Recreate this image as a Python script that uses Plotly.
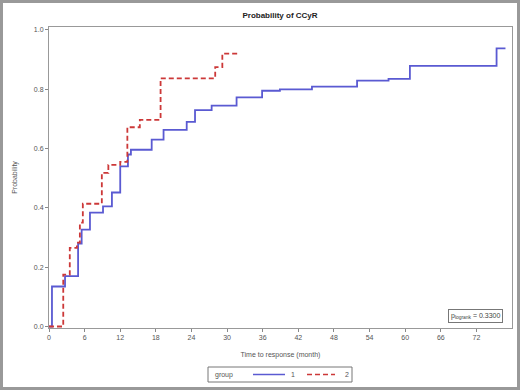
import plotly.graph_objects as go

# Group 1 (step function) times and probabilities
g1_time = [0, 0.5, 2.7, 4.9, 5.5, 6.9, 9.1, 10.6, 12.0, 13.3, 13.8, 17.3, 19.3, 23.2, 24.6, 27.4, 31.6, 35.9, 38.9, 44.3, 51.9, 57.2, 60.8, 75.4, 76.9]
g1_prob = [0, 0.135, 0.17, 0.28, 0.327, 0.384, 0.405, 0.452, 0.54, 0.58, 0.596, 0.63, 0.663, 0.69, 0.73, 0.745, 0.773, 0.795, 0.80, 0.809, 0.829, 0.835, 0.879, 0.938, 0.938]

# Group 2
g2_time = [0, 2.4, 3.5, 4.7, 5.2, 5.7, 8.9, 10.0, 12.0, 13.2, 15.3, 18.8, 28.0, 29.2, 31.9]
g2_prob = [0, 0.175, 0.265, 0.283, 0.35, 0.414, 0.518, 0.545, 0.555, 0.672, 0.697, 0.837, 0.875, 0.92, 0.92]

x_ticks = [0, 6, 12, 18, 24, 30, 36, 42, 48, 54, 60, 66, 72]
y_ticks = [0.0, 0.2, 0.4, 0.6, 0.8, 1.0]
y_tick_labels = ["0.0", "0.2", "0.4", "0.6", "0.8", "1.0"]

group_names = ["1", "2"]
group_colors = ["#5a5ad2", "#cc3838"]
group_dash = ["solid", "5px,3px"]

fig = go.Figure()
fig.add_trace(go.Scatter(x=g1_time, y=g1_prob, mode="lines", line_shape="hv",
                         line=dict(color=group_colors[0], width=1.8, dash=group_dash[0]), name=group_names[0]))
fig.add_trace(go.Scatter(x=g2_time, y=g2_prob, mode="lines", line_shape="hv",
                         line=dict(color=group_colors[1], width=1.8, dash=group_dash[1]), name=group_names[1]))

W, H = 520, 390
ml, mr, mt, mb = 49, 8, 27, 62
pw, ph = W - ml - mr, H - mt - mb


def px(xp):
    return (xp - ml) / pw


def py(yp):
    return (mt + ph - yp) / ph


fig.update_layout(
    width=W, height=H,
    margin=dict(l=ml, r=mr, t=mt, b=mb),
    paper_bgcolor="white", plot_bgcolor="white",
    font=dict(family="Liberation Sans, Arial", size=7, color="#555555"),
    title=dict(text="<b>Probability of CCyR</b>", x=px(280), xref="paper", xanchor="center",
               y=1 - 15 / H, yanchor="middle", font=dict(size=8, color="#222222")),
    xaxis=dict(range=[0, 78], tickvals=x_ticks, ticks="outside", ticklen=3, tickcolor="#888888",
               showgrid=False, zeroline=False, showline=True, linecolor="#999999", mirror=True,
               title=dict(text="Time to response (month)", font=dict(size=7, color="#555555"), standoff=11)),
    yaxis=dict(range=[-0.005, 1.01], tickvals=y_ticks, ticktext=y_tick_labels, ticks="outside", ticklen=3,
               tickcolor="#888888", showgrid=False, zeroline=False, showline=True, linecolor="#999999",
               mirror=True, title=dict(text="Probability", font=dict(size=7, color="#555555"), standoff=15)),
    showlegend=False,
)

# p-value box
fig.add_annotation(text="p<sub>logrank</sub> = 0.3300", xref="paper", yref="paper",
                   x=px(503), y=py(323), xanchor="right", yanchor="bottom",
                   showarrow=False, bordercolor="#777777", borderwidth=1, borderpad=2,
                   bgcolor="white", font=dict(size=7, color="#444444"))

# custom legend (box, title, sample lines, labels)
fig.add_shape(type="rect", xref="paper", yref="paper", x0=px(208), x1=px(352), y0=py(382), y1=py(367),
              line=dict(color="#777777", width=1), fillcolor="white")
fig.add_annotation(text="group", xref="paper", yref="paper", x=px(213), y=py(374.5),
                   xanchor="left", yanchor="middle", showarrow=False, font=dict(size=7, color="#555555"))
leg_line_x = [(253, 285), (307, 335)]
leg_text_x = [289, 343]
for i in range(2):
    fig.add_shape(type="line", xref="paper", yref="paper", x0=px(leg_line_x[i][0]), x1=px(leg_line_x[i][1]),
                  y0=py(374.5), y1=py(374.5), line=dict(color=group_colors[i], width=1.5, dash=group_dash[i]))
    fig.add_annotation(text=group_names[i], xref="paper", yref="paper", x=px(leg_text_x[i]), y=py(374.5),
                       xanchor="left", yanchor="middle", showarrow=False, font=dict(size=7, color="#555555"))

# outer frame around the whole image
fig.add_shape(type="rect", xref="paper", yref="paper",
              x0=px(1.5), x1=px(W - 1.5), y0=py(H - 1.5), y1=py(1.5),
              line=dict(color="#999999", width=3), layer="below")

fig.write_html("out.html", config={"displayModeBar": False},
               post_script="document.body.style.margin='0';document.body.style.overflow='hidden';")
